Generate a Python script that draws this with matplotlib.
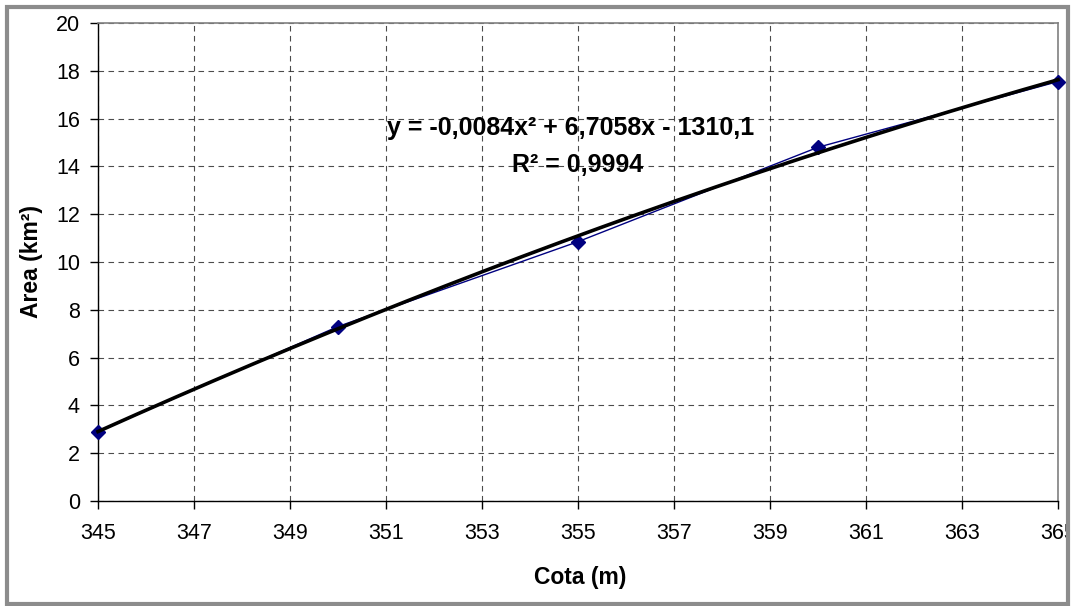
import matplotlib.pyplot as plt
import numpy as np
from matplotlib.patches import Rectangle
from matplotlib.transforms import Bbox

plt.rcParams['font.family'] = ['Liberation Sans', 'DejaVu Sans']

# data
cota = [345, 350, 355, 360, 365]
area = [2.9, 7.3, 10.85, 14.8, 17.55]
x_ticks = [345, 347, 349, 351, 353, 355, 357, 359, 361, 363, 365]
y_ticks = [0, 2, 4, 6, 8, 10, 12, 14, 16, 18, 20]
eq_text = "y = -0,0084x² + 6,7058x - 1310,1"
r2_text = "R² = 0,9994"

fig = plt.figure(figsize=(10.73, 6.06), dpi=100)
ax = fig.add_axes([98 / 1073, 105 / 606, 960 / 1073, 478 / 606])

# polynomial trend line (order 2), like the spreadsheet one
coef = np.polyfit(cota, area, 2)
xs = np.linspace(cota[0], cota[-1], 200)
ax.plot(cota, area, color='#000080', lw=1, marker='D', ms=7,
        mec='#000080', mfc='#000080', zorder=3, clip_on=False)
ax.plot(xs, np.polyval(coef, xs), color='black', lw=2.6, zorder=4,
        clip_on=False)

ax.set_xlim(345, 365)
ax.set_ylim(0, 20)
ax.set_xticks(x_ticks)
ax.set_yticks(y_ticks)
ax.grid(True, color='black', ls=(0, (5, 4)), lw=0.8, alpha=0.7)
ax.set_axisbelow(True)

for s in ['top', 'right']:
    ax.spines[s].set_color('#808080')
    ax.spines[s].set_linewidth(1.2)
for s in ['left', 'bottom']:
    ax.spines[s].set_color('black')
    ax.spines[s].set_linewidth(1)

ax.tick_params(direction='out', length=6, width=1, labelsize=15.5)
ax.tick_params(axis='x', pad=10)
ax.tick_params(axis='y', pad=7)
ax.set_xlabel("Cota (m)", fontsize=16.5, fontweight='bold', va='center')
ax.set_ylabel("Area (km²)", fontsize=16.5, fontweight='bold', va='center')
ax.xaxis.set_label_coords(0.502, -0.159)
ax.yaxis.set_label_coords(-0.069, 0.5)

ax.text(354.85, 15.6, eq_text, fontsize=18, fontweight='bold',
        ha='center', va='center')
ax.text(355.0, 14.06, r2_text, fontsize=18, fontweight='bold',
        ha='center', va='center')

# last tick label gets cut by the chart frame (as in the original)
fig.canvas.draw()
last = ax.get_xticklabels()[-1]
last.set_clip_box(Bbox([[0, 0], [1066, 606]]))
last.set_clip_on(True)

# outer chart frame
fig.patches.append(Rectangle((7 / 1073, 2 / 606), 1061 / 1073, 597 / 606,
                             transform=fig.transFigure, fill=False,
                             ec='#8c8c8c', lw=3))

fig.savefig("out.png", dpi=100)
